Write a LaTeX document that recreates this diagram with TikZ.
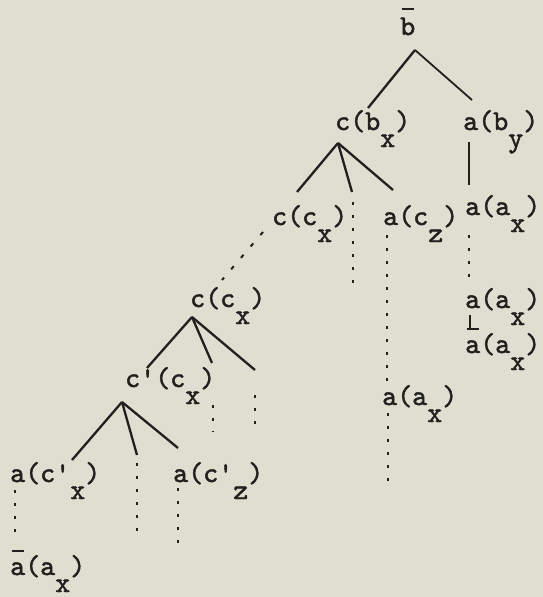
\documentclass[tikz,border=0pt]{standalone}
\usepackage{fontspec}
\usetikzlibrary{calc}
\newfontfamily\typer{lmmono10-regular.otf}[FakeBold=1.6]
\definecolor{paper}{RGB}{224,222,208}
\definecolor{ink}{RGB}{32,32,30}
\newcommand\sub[1]{\raisebox{-17pt}{#1}}
\newcommand\tbar[2][23pt]{\leavevmode\rlap{\hbox to 0.525em{\hss\rule[#1]{0.42em}{1.8pt}\hss}}#2}
\newcommand\q{\textquotesingle}

\begin{document}
\begin{tikzpicture}[x=1pt,y=-1pt,
    lab/.style={anchor=base west,inner sep=0pt,text=ink,
                font=\fontsize{28.6}{34}\selectfont\typer},
    branch/.style={ink,line width=2.3pt},
    dots/.style={ink,line width=1.6pt,dash pattern=on 3pt off 10pt}
  ]
  \fill[paper] (0,0) rectangle (543,597);
  \useasboundingbox (0,0) rectangle (543,597);

  % labels
  \node[lab] (bb)   at (400,35)  {\tbar[25pt]{b}};
  \node[lab] (cbx)  at (335,130) {c(b\sub{x})};
  \node[lab] (aby)  at (463,130) {a(b\sub{y})};
  \node[lab] (ccx)  at (272,225) {c(c\sub{x})};
  \node[lab] (acz)  at (383,225) {a(c\sub{z})};
  \node[lab] (aax1) at (465,215) {a(a\sub{x})};
  \node[lab] (aax2) at (465,308) {a(a\sub{x})};
  \node[lab] (aax3) at (465,353) {\tbar{a}(a\sub{x})};
  \node[lab] (aax4) at (382,405) {a(a\sub{x})};
  \node[lab] (ccxb) at (190,307) {c(c\sub{x})};
  \node[lab] (cpcx) at (125,387) {c\q(c\sub{x})};
  \node[lab] (acpx) at (10,482)  {a(c\q\sub{x})};
  \node[lab] (acpz) at (173,482) {a(c\q\sub{z})};
  \node[lab] (aax5) at (10,575)  {\tbar{a}(a\sub{x})};

  % branch points and loose ends
  \coordinate (bbA)   at ($(bb.base west)+(15,15)$);
  \coordinate (cbxA)  at ($(cbx.base west)+(3,13)$);
  \coordinate (ccxbA) at ($(ccxb.base west)+(2,10)$);
  \coordinate (cpcxA) at ($(cpcx.base west)+(-3,15)$);
  \coordinate (endA) at (353,285);
  \coordinate (endB) at (469,285);
  \coordinate (endC) at (388,490);
  \coordinate (endD) at (213,432);
  \coordinate (endE) at (255,427);
  \coordinate (endF) at (137,537);
  \coordinate (endG) at (178,547);

  % top
  \draw[branch] (bbA) -- ($(cbx.base west)+(33,-22)$);
  \draw[branch,line width=1.8pt] (bbA) -- ($(aby.base west)+(9,-30)$);

  \draw[branch] (cbxA) -- ($(ccx.base west)+(25,-33)$);
  \draw[branch] (cbxA) -- ++(14,49);
  \draw[dots] (353,202) -- (endA);
  \draw[branch] (cbxA) -- ($(acz.base west)+(10,-35)$);

  \draw[branch,line width=1.8pt] ($(aby.base west)+(6,12)$) -- ($(aax1.base west)+(4,-30)$);
  \draw[dots] ($(aax1.base west)+(4,20)$) -- (endB);
  \draw[branch,line width=1.6pt] ($(aax2.base west)+(5,7)$) -- ($(aax3.base west)+(5,-25)$);

  \draw[dots] ($(acz.base west)+(4,10)$) -- ($(aax4.base west)+(5,-15)$);
  \draw[dots] ($(aax4.base west)+(6,8)$) -- (endC);

  % left side
  \draw[dots,line width=2pt,dash pattern=on 4pt off 11pt] ($(ccx.base west)+(-9,7)$) -- ($(ccxb.base west)+(32,-27)$);

  \draw[branch] (ccxbA) -- ($(cpcx.base west)+(22,-19)$);
  \draw[branch] (ccxbA) -- ++(20,46);
  \draw[dots] (213,405) -- (endD);
  \draw[branch] (ccxbA) -- ++(63,53);
  \draw[dots] (255,395) -- (endE);

  \draw[branch] (cpcxA) -- ($(acpx.base west)+(62,-22)$);
  \draw[branch] (cpcxA) -- ++(15,53);
  \draw[dots] (137,463) -- (endF);
  \draw[branch] (cpcxA) -- ($(acpz.base west)+(5,-34)$);

  \draw[dots] ($(acpx.base west)+(5,8)$) -- ($(aax5.base west)+(5,-33)$);
  \draw[dots] ($(acpz.base west)+(5,6)$) -- (endG);
\end{tikzpicture}
\end{document}
